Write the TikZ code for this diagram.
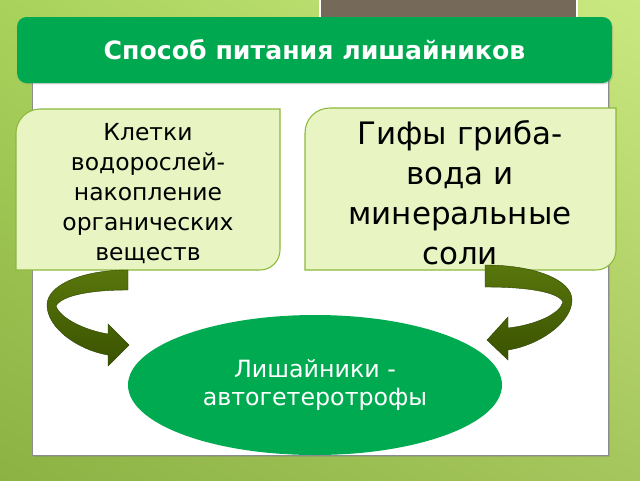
\documentclass[tikz,border=0pt]{standalone}
\usepackage{fontspec}
\setmainfont{DejaVu Sans}
\usetikzlibrary{shapes.geometric,shadows,shadings}
\definecolor{titlegreen}{RGB}{0,168,80}
\definecolor{ellgreen}{RGB}{0,170,80}
\definecolor{boxfill}{RGB}{232,245,195}
\definecolor{boxborder}{RGB}{140,185,60}
\definecolor{arrowdark}{RGB}{58,82,0}
\definecolor{arrowlight}{RGB}{88,118,12}
\definecolor{bgul}{RGB}{168,210,92}
\definecolor{bgur}{RGB}{202,232,128}
\definecolor{bgll}{RGB}{140,178,68}
\definecolor{bglr}{RGB}{165,198,92}
\definecolor{panelgray}{RGB}{117,105,90}
\begin{document}
\begin{tikzpicture}[x=0.75pt,y=-0.75pt,
  titlebox/.style={fill=titlegreen, rounded corners=7pt, minimum width=446pt, minimum height=49.5pt,
    text=white, font=\bfseries\fontsize{18.9}{22}\selectfont, drop shadow={opacity=0.3,shadow xshift=1pt,shadow yshift=-1pt}},
  boxshape/.style={fill=boxfill, draw=boxborder, line width=0.8pt},
  boxtext/.style={align=center, text=black, inner sep=0pt},
  ellnode/.style={ellipse, fill=ellgreen, minimum width=280.5pt, minimum height=105pt, inner sep=0pt,
    text=white, align=center, font=\fontsize{17.8}{21}\selectfont},
  bentarrow/.style={top color=arrowlight, bottom color=arrowdark, draw=arrowdark!80!black, line width=0.3pt}
]
\useasboundingbox (0,0) rectangle (640,480);
% background
\shade[upper left=bgul, upper right=bgur, lower left=bgll, lower right=bglr] (0,0) rectangle (640,480);
% decorative gray block
\draw[white, line width=2pt, fill=panelgray] (320,-5) rectangle (577,40);
% white panel
\draw[draw=black!45, fill=white, line width=0.6pt, drop shadow={opacity=0.35,shadow xshift=1.5pt,shadow yshift=-1.5pt}] (32,60) rectangle (608,455);
% title
\node[titlebox] (title) at (314.5,50) {Способ питания лишайников};
% left box
\path[boxshape] (16,270) -- (16,133) .. controls (16,120) and (27,109) .. (40,109) -- (280,109) -- (280,250)
  .. controls (280,261) and (271,270) .. (260,270) -- cycle;
\node[boxtext, font=\fontsize{17.6}{22.5}\selectfont] (algae) at (148,194) {Клетки\\водорослей-\\накопление\\органических\\веществ};
% right box
\path[boxshape] (305,270) -- (305,133) .. controls (305,119) and (316,108) .. (330,108) -- (616,108) -- (616,250)
  .. controls (616,261) and (607,270) .. (596,270) -- cycle;
\node[boxtext, font=\fontsize{23.2}{30}\selectfont] (fungi) at (460,193) {Гифы гриба-\\вода и\\минеральные\\соли};
% ellipse
\node[ellnode] (lichen) at (315,385) {Лишайники -\\автогетеротрофы};
% left bent arrow
\path[bentarrow] (128,270) .. controls (82,270) and (47,285) .. (47,305)
  .. controls (47,328) and (78,350) .. (108,355) -- (108,366) -- (129,345) -- (108,324) -- (108,334)
  .. controls (84,330) and (60,318) .. (56,306)
  .. controls (62,295) and (92,290) .. (128,290) -- cycle;
% right bent arrow
\path[bentarrow] (485,265) .. controls (535,265) and (572,280) .. (572,300)
  .. controls (572,322) and (540,345) .. (508,350) -- (508,360) -- (487,340) -- (508,317) -- (508,328)
  .. controls (535,325) and (560,314) .. (563,302)
  .. controls (558,292) and (528,287) .. (485,287) -- cycle;
\end{tikzpicture}
\end{document}
